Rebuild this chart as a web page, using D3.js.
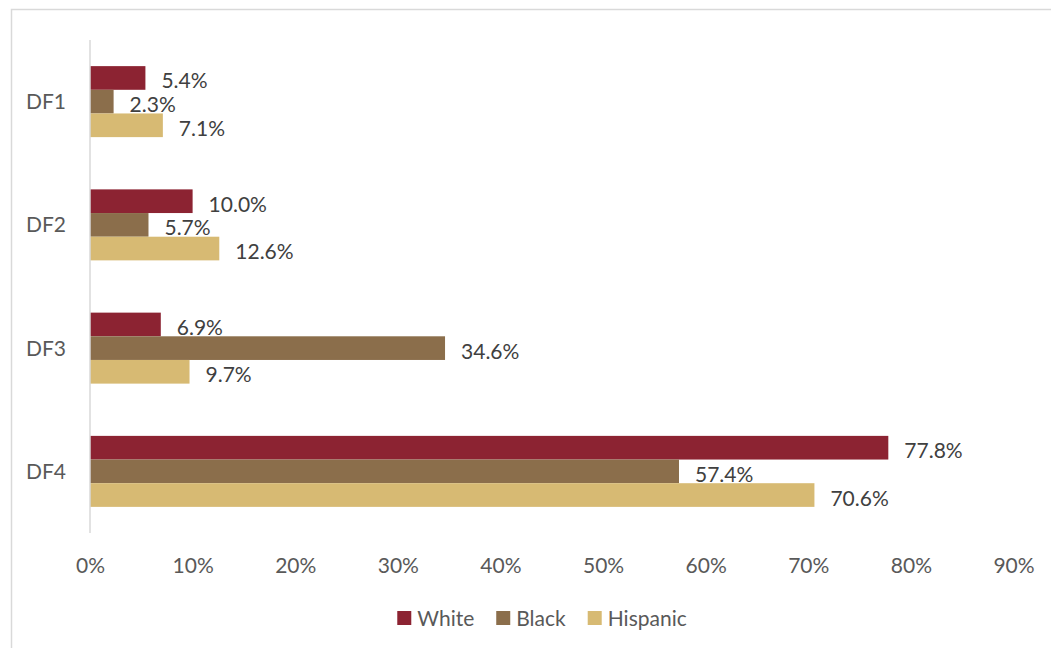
<!DOCTYPE html>
<html>
<head>
<meta charset="utf-8">
<script src="https://cdn.jsdelivr.net/npm/d3@7"></script>
<style>
  body { margin: 0; background: #fff; }
  text { font-family: Lato, "Open Sans", sans-serif; }
</style>
</head>
<body>
<div class="canvas"></div>
<script>
// data
const categories = ['DF1', 'DF2', 'DF3', 'DF4'];
const seriesNames = ['White', 'Black', 'Hispanic'];
const white = [5.4, 10.0, 6.9, 77.8];
const black = [2.3, 5.7, 34.6, 57.4];
const hispanic = [7.1, 12.6, 9.7, 70.6];
const tickValues = [0, 10, 20, 30, 40, 50, 60, 70, 80, 90];
const colors = ['#8c2332', '#8b6e4b', '#d7ba73'];

const series = [white, black, hispanic];
const fontSize = 21;

const svg = d3.select('.canvas')
    .append('svg')
        .attr('width', 1051)
        .attr('height', 648);

// chart border
svg.append('rect')
    .attr('x', 11.5)
    .attr('y', 9.5)
    .attr('width', 1060)
    .attr('height', 660)
    .attr('fill', 'none')
    .attr('stroke', '#d9d9d9')
    .attr('stroke-width', 1.5);

const x = d3.scaleLinear()
    .domain([0, 90])
    .range([90, 1013.5]);

const y = d3.scaleBand()
    .domain(categories)
    .range([40, 533])
    .paddingInner(0.424)
    .paddingOuter(0.212);

const y1 = d3.scaleBand()
    .domain(seriesNames)
    .range([0, y.bandwidth()]);

// x axis labels only
const xAxis = d3.axisBottom(x)
    .tickValues(tickValues)
    .tickSize(0)
    .tickPadding(0)
    .tickFormat(d => d + '%');

const xAxisGroup = svg.append('g')
    .attr('transform', 'translate(0, 556)')
    .call(xAxis);
xAxisGroup.select('.domain').remove();
xAxisGroup.selectAll('text')
    .attr('dy', null)
    .attr('y', 17)
    .attr('font-size', fontSize)
    .attr('font-family', 'Lato')
    .attr('fill', '#595959');

// category labels
const yAxis = d3.axisLeft(y).tickSize(0).tickPadding(24);
const yAxisGroup = svg.append('g')
    .attr('transform', 'translate(90, 0)')
    .call(yAxis);
yAxisGroup.select('.domain').remove();
yAxisGroup.selectAll('text')
    .attr('dy', '0.36em')
    .attr('font-size', fontSize)
    .attr('font-family', 'Lato')
    .attr('fill', '#595959');

// bars
const groups = svg.selectAll('g.cat')
    .data(categories)
    .enter()
    .append('g')
        .attr('class', 'cat')
        .attr('transform', d => `translate(0, ${y(d)})`);

groups.selectAll('rect')
    .data((d, i) => series.map((s, j) => ({ name: seriesNames[j], value: s[i], color: colors[j] })))
    .enter()
    .append('rect')
        .attr('x', x(0))
        .attr('y', d => y1(d.name))
        .attr('width', d => x(d.value) - x(0))
        .attr('height', y1.bandwidth())
        .attr('fill', d => d.color);

groups.selectAll('text.val')
    .data((d, i) => series.map((s, j) => ({ name: seriesNames[j], value: s[i] })))
    .enter()
    .append('text')
        .attr('class', 'val')
        .attr('x', d => x(d.value) + 16)
        .attr('y', d => y1(d.name) + y1.bandwidth() / 2 + 2)
        .attr('dominant-baseline', 'central')
        .attr('font-size', fontSize)
        .attr('fill', '#404040')
        .text(d => d.value.toFixed(1) + '%');

// vertical axis line
svg.append('line')
    .attr('x1', 90).attr('x2', 90)
    .attr('y1', 40).attr('y2', 533)
    .attr('stroke', '#d9d9d9')
    .attr('stroke-width', 1.5);

// legend
const legend = svg.append('g');
let lx = 0;
seriesNames.forEach((name, i) => {
    const item = legend.append('g').attr('transform', `translate(${lx}, 0)`);
    item.append('rect')
        .attr('x', 0).attr('y', 611)
        .attr('width', 14).attr('height', 14)
        .attr('fill', colors[i]);
    const t = item.append('text')
        .attr('x', 20).attr('y', 626)
        .attr('font-size', fontSize)
        .attr('fill', '#595959')
        .text(name);
    lx += 20 + t.node().getComputedTextLength() + 22;
});
const legendWidth = lx - 22;
legend.attr('transform', `translate(${542 - legendWidth / 2}, 0)`);
</script>
</body>
</html>
